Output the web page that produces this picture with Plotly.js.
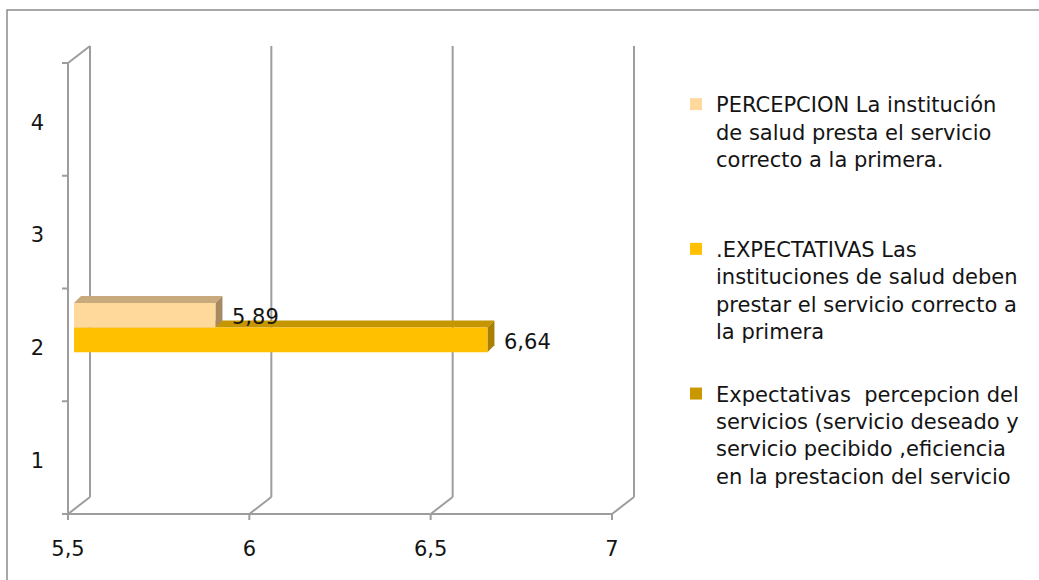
<!DOCTYPE html>
<html>
<head>
<meta charset="utf-8">
<script src="https://cdn.plot.ly/plotly-3.0.1.min.js"></script>
<style>html,body{margin:0;padding:0;background:#fff;}#chart{width:1039px;height:580px;}</style>
</head>
<body>
<div id="chart"></div>
<script>
// ---- data ----
const categories = ['1', '2', '3', '4'];
const percepcion = [null, 5.89, null, null];
const expectativas = [null, 6.64, null, null];
const brecha = [null, 0.75, null, null];
const seriesNames = [
  'PERCEPCION La institución<br>de salud presta el servicio<br>correcto a la primera.<br>\u00a0',
  '.EXPECTATIVAS Las<br>instituciones de salud deben<br>prestar el servicio correcto a<br>la primera',
  'Expectativas\u00a0 percepcion del<br>servicios (servicio deseado y<br>servicio pecibido ,eficiencia<br>en la prestacion del servicio'
];
const xTicks = [5.5, 6, 6.5, 7];

// ---- style / geometry ----
const W = 1039, H = 580;
const M = {l: 74, r: 421, t: 58, b: 71};
const PLOT_W = W - M.l - M.r, PLOT_H = H - M.t - M.b;
const X_RANGE = [5.5, 7];
const Y_RANGE = [-0.5, 3.5];
const BARGAP = 0.348;
const FRONT = {dx: -6, dy: 5}, BACK = {dx: 16, dy: -12};
const DEPTH = 7;
const GRID = '#9d9d9d';
const FONT = 'DejaVu Sans, sans-serif';
const TXT = '#141414';

const colors = {
  percepcion: {front: '#FFD89C', top: '#C8AA7C', side: '#A88A62'},
  expectativas: {front: '#FFC000', top: '#C69600', side: '#A98100'},
  brecha: {front: '#C99800'}
};

function PX(v, dx) { return (v - X_RANGE[0]) / (X_RANGE[1] - X_RANGE[0]) + dx / PLOT_W; }
function PY(c, dy) { return (c - Y_RANGE[0]) / (Y_RANGE[1] - Y_RANGE[0]) - dy / PLOT_H; }
function line(x0, y0, x1, y1, color, width) {
  return {type: 'line', xref: 'paper', yref: 'paper', x0: x0, y0: y0, x1: x1, y1: y1,
          line: {color: color || GRID, width: width || 2}, layer: 'below'};
}

const shapes = [];
// outer chart frame
shapes.push({type: 'rect', xref: 'paper', yref: 'paper',
  x0: (7 - M.l) / PLOT_W, x1: (W + 10 - M.l) / PLOT_W,
  y0: (H - M.b - 10) / PLOT_H, y1: (H - M.b - H - 10) / PLOT_H,
  line: {color: '#8c8c8c', width: 1.5}, fillcolor: 'rgba(0,0,0,0)', layer: 'below'});

const yLo = Y_RANGE[0], yHi = Y_RANGE[1];
xTicks.forEach(function (v) {
  shapes.push(line(PX(v, BACK.dx), PY(yLo, BACK.dy), PX(v, BACK.dx), PY(yHi, BACK.dy)));
  shapes.push(line(PX(v, FRONT.dx), PY(yLo, FRONT.dy), PX(v, BACK.dx), PY(yLo, BACK.dy)));
  shapes.push(line(PX(v, FRONT.dx), PY(yLo, FRONT.dy), PX(v, FRONT.dx), PY(yLo, FRONT.dy + 6)));
});
shapes.push(line(PX(X_RANGE[0], FRONT.dx), PY(yLo, FRONT.dy), PX(X_RANGE[1], FRONT.dx), PY(yLo, FRONT.dy)));
shapes.push(line(PX(X_RANGE[0], FRONT.dx), PY(yLo, FRONT.dy), PX(X_RANGE[0], FRONT.dx), PY(yHi, FRONT.dy)));
shapes.push(line(PX(X_RANGE[0], FRONT.dx), PY(yHi, FRONT.dy), PX(X_RANGE[0], BACK.dx), PY(yHi, BACK.dy)));
for (let c = yLo; c <= yHi + 1e-9; c += 1) {
  shapes.push(line(PX(X_RANGE[0], FRONT.dx), PY(c, FRONT.dy), PX(X_RANGE[0], FRONT.dx - 6), PY(c, FRONT.dy)));
}

// grouped bar geometry (trace order bottom -> top); rank = legend position
const groupOrder = [
  {key: 'brecha', vals: brecha, name: seriesNames[2], rank: 3},
  {key: 'expectativas', vals: expectativas, name: seriesNames[1], rank: 2},
  {key: 'percepcion', vals: percepcion, name: seriesNames[0], rank: 1}
];
const nGroup = groupOrder.length;
const barW = (1 - BARGAP) / nGroup;

function pt(x, y) { return x + ',' + y; }
const annotations = [];
groupOrder.forEach(function (s, i) {
  s.vals.forEach(function (v, k) {
    if (v === null || v <= X_RANGE[0]) return;
    const yb = k - (1 - BARGAP) / 2 + i * barW;
    const yt = yb + barW;
    const c = colors[s.key];
    shapes.push({type: 'path', xref: 'paper', yref: 'paper', layer: 'below',
      path: 'M' + pt(PX(X_RANGE[0], 0), PY(yt, 0)) + 'L' + pt(PX(X_RANGE[0], DEPTH), PY(yt, -DEPTH)) +
            'L' + pt(PX(v, DEPTH), PY(yt, -DEPTH)) + 'L' + pt(PX(v, 0), PY(yt, 0)) + 'Z',
      fillcolor: c.top, line: {width: 0}});
    shapes.push({type: 'path', xref: 'paper', yref: 'paper', layer: 'below',
      path: 'M' + pt(PX(v, 0), PY(yt, 0)) + 'L' + pt(PX(v, DEPTH), PY(yt, -DEPTH)) +
            'L' + pt(PX(v, DEPTH), PY(yb, -DEPTH)) + 'L' + pt(PX(v, 0), PY(yb, 0)) + 'Z',
      fillcolor: c.side, line: {width: 0}});
    annotations.push({xref: 'x', yref: 'y', x: v, y: (yb + yt) / 2, xanchor: 'left', yanchor: 'middle',
      xshift: 15, yshift: -2, showarrow: false,
      text: v.toFixed(2).replace('.', ','), font: {family: FONT, size: 21, color: TXT}});
  });
});

const traces = groupOrder.map(function (s) {
  return {
    type: 'bar', orientation: 'h', name: s.name,
    x: s.vals, y: categories,
    marker: {color: colors[s.key].front, line: {width: 0}},
    legendgroup: 'g' + s.rank, legendrank: s.rank, hoverinfo: 'skip'
  };
});

const layout = {
  width: W, height: H,
  margin: M,
  paper_bgcolor: '#ffffff', plot_bgcolor: 'rgba(0,0,0,0)',
  separators: ',.',
  barmode: 'group', bargap: BARGAP, bargroupgap: 0,
  font: {family: FONT, size: 20, color: TXT},
  xaxis: {range: X_RANGE, tickvals: xTicks, showgrid: false, zeroline: false, showline: false,
          ticks: '', ticklen: 0, ticklabelshift: FRONT.dx, ticklabelstandoff: 25,
          tickfont: {family: FONT, size: 21, color: TXT}, fixedrange: true},
  yaxis: {type: 'category', categoryarray: categories, categoryorder: 'array', range: Y_RANGE,
          showgrid: false, zeroline: false, showline: false, ticks: '', ticklen: 0,
          ticklabelshift: 8, ticklabelstandoff: 29,
          tickfont: {family: FONT, size: 21, color: TXT}, fixedrange: true},
  legend: {x: (676 - M.l) / PLOT_W, xanchor: 'left', y: (H - M.b - 84) / PLOT_H, yanchor: 'top',
           traceorder: 'grouped', tracegroupgap: 32.5, valign: 'top',
           font: {family: FONT, size: 21, color: TXT}, bgcolor: 'rgba(0,0,0,0)'},
  showlegend: true,
  hovermode: false,
  shapes: shapes,
  annotations: annotations
};

Plotly.newPlot('chart', traces, layout, {staticPlot: true, displayModeBar: false});
</script>
</body>
</html>
